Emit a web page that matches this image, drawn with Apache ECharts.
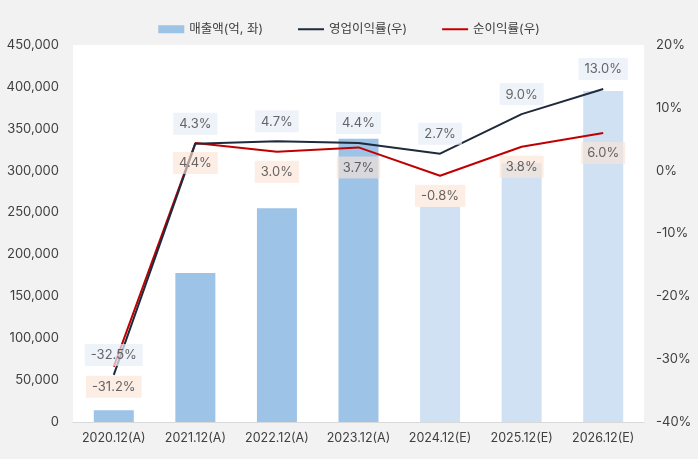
<!DOCTYPE html>
<html>
<head>
<meta charset="utf-8">
<script src="https://cdn.jsdelivr.net/npm/echarts@6/dist/echarts.min.js"></script>
<style>
  html, body { margin: 0; padding: 0; background: #f2f2f2; }
  #chart { width: 698px; height: 459px; }
</style>
</head>
<body>
<div id="chart"></div>
<script>
const categories = ['2020.12(A)', '2021.12(A)', '2022.12(A)', '2023.12(A)', '2024.12(E)', '2025.12(E)', '2026.12(E)'];
const isEstimate = [false, false, false, false, true, true, true];
const sales = [14000, 178000, 255000, 338000, 257000, 309000, 395000];
const opMargin = [-32.5, 4.3, 4.7, 4.4, 2.7, 9.0, 13.0];
const netMargin = [-31.2, 4.4, 3.0, 3.7, -0.8, 3.8, 6.0];

const font = 'Inter, "Noto Sans CJK KR", sans-serif';
const myChart = echarts.init(document.getElementById('chart'));

// 라벨은 보이지 않는 scatter 로 그림 (선은 심볼 없이)
const labelBase = {
  show: true,
  formatter: p => p.value.toFixed(1) + '%',
  color: '#404040',
  fontSize: 13,
  fontFamily: font,
  padding: [5, 6, 4, 6],
  distance: 9
};

const option = {
  backgroundColor: '#f2f2f2',
  textStyle: { fontFamily: font },
  legend: {
    top: 18,
    left: 'center',
    itemGap: 34,
    itemWidth: 26,
    itemHeight: 8,
    textStyle: { color: '#404040', fontSize: 12.5, fontFamily: font },
    data: [
      { name: '매출액(억, 좌)', icon: 'rect' },
      { name: '영업이익률(우)', itemStyle: { opacity: 0 } },
      { name: '순이익률(우)', itemStyle: { opacity: 0 } }
    ]
  },
  grid: {
    left: 73, right: 54, top: 45, bottom: 37,
    show: true, backgroundColor: '#ffffff', borderWidth: 0
  },
  xAxis: {
    type: 'category',
    data: categories,
    axisLine: { lineStyle: { color: '#d9d9d9' } },
    axisTick: { show: false },
    axisLabel: { color: '#404040', fontSize: 12.5, margin: 10, interval: 0 }
  },
  yAxis: [
    {
      type: 'value', min: 0, max: 450000, interval: 50000,
      splitLine: { show: false },
      axisLabel: {
        color: '#404040', fontSize: 13, margin: 14,
        formatter: v => v.toLocaleString('en-US')
      }
    },
    {
      type: 'value', min: -40, max: 20, interval: 10,
      splitLine: { show: false },
      axisLabel: {
        color: '#404040', fontSize: 13, margin: 12, align: 'left',
        formatter: v => v + '%'
      }
    }
  ],
  series: [
    {
      name: '매출액(억, 좌)',
      type: 'bar',
      yAxisIndex: 0,
      barWidth: 40,
      itemStyle: { color: '#9dc3e6' },
      data: sales.map((v, i) => ({
        value: v,
        itemStyle: { color: isEstimate[i] ? '#cfe1f2' : '#9dc3e6' }
      })),
      z: 1
    },
    {
      name: '영업이익률(우)',
      type: 'line',
      yAxisIndex: 1,
      data: opMargin,
      symbol: 'none',
      lineStyle: { color: '#1f2a3c', width: 2 },
      itemStyle: { color: '#1f2a3c' },
      z: 3
    },
    {
      name: '순이익률(우)',
      type: 'line',
      yAxisIndex: 1,
      data: netMargin,
      symbol: 'none',
      lineStyle: { color: '#c00000', width: 2 },
      itemStyle: { color: '#c00000' },
      z: 2
    },
    {
      name: 'opLabel',
      type: 'scatter',
      yAxisIndex: 1,
      data: opMargin,
      symbolSize: 0,
      silent: true,
      label: Object.assign({}, labelBase, {
        position: 'top',
        backgroundColor: 'rgba(232,238,248,0.9)'
      }),
      z: 5
    },
    {
      name: 'netLabel',
      type: 'scatter',
      yAxisIndex: 1,
      data: netMargin,
      symbolSize: 0,
      silent: true,
      label: Object.assign({}, labelBase, {
        position: 'bottom',
        backgroundColor: 'rgba(251,229,214,0.8)'
      }),
      z: 4
    }
  ]
};

myChart.setOption(option);
</script>
</body>
</html>
